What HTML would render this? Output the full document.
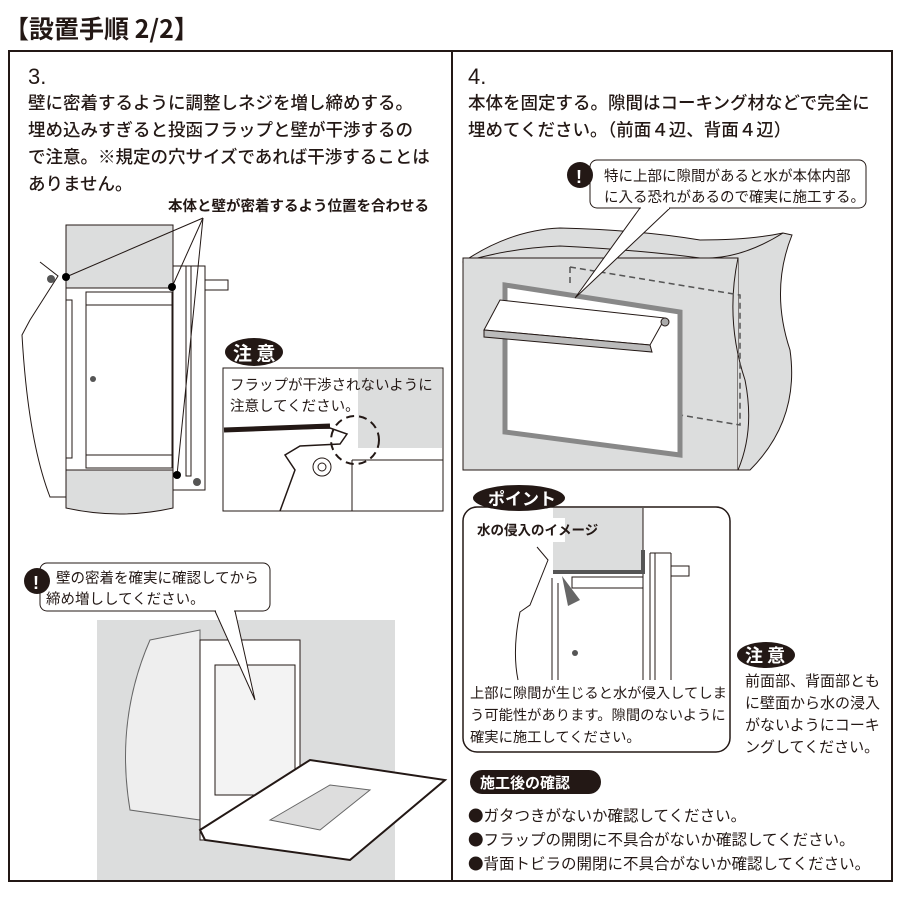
<!DOCTYPE html>
<html><head><meta charset="utf-8"><style>
body{margin:0;background:#fff}
svg{display:block}
text{font-family:"Liberation Sans","Noto Sans CJK JP",sans-serif;fill:#231815}
.cjk{font-family:"Noto Sans CJK JP",sans-serif}
</style></head><body>
<svg width="900" height="900" viewBox="0 0 900 900" xmlns="http://www.w3.org/2000/svg">
<text x="4" y="38" font-size="25" class="cjk" font-weight="bold">【設置手順 2/2】</text>
<rect x="9" y="51" width="883" height="830" fill="none" stroke="#231815" stroke-width="2"/>
<line x1="452" y1="51" x2="452" y2="881" stroke="#231815" stroke-width="2"/>

<!-- Step 3 -->
<text x="28" y="84" font-size="22">3.</text>
<g font-size="17.5" class="cjk" font-weight="500">
<text x="28" y="109">壁に密着するように調整しネジを増し締めする。</text>
<text x="28" y="136">埋め込みすぎると投函フラップと壁が干渉するの</text>
<text x="28" y="163">で注意。※規定の穴サイズであれば干渉することは</text>
<text x="28" y="190">ありません。</text>
</g>
<text x="168" y="211" font-size="14.5" class="cjk" font-weight="bold">本体と壁が密着するよう位置を合わせる</text>

<!-- wall -->
<rect x="66" y="225" width="107" height="63" fill="#dcdddd" stroke="#231815"/>
<path d="M66 470 H173 V508 Q120 520 66 508 Z" fill="#dcdddd" stroke="#231815"/>
<rect x="66" y="288" width="107" height="182" fill="#fff" stroke="#231815"/>
<rect x="86" y="292" width="86" height="176" fill="#fff" stroke="#231815"/>
<rect x="86" y="292" width="86" height="13" fill="#fff" stroke="#231815"/>
<rect x="86" y="455" width="86" height="13" fill="#fff" stroke="#231815"/>
<rect x="66" y="300" width="6" height="158" fill="none" stroke="#231815"/>
<circle cx="93" cy="379" r="3" fill="#555"/>
<rect x="173" y="266" width="32" height="224" fill="#fff" stroke="#231815"/>
<rect x="186" y="266" width="5" height="210" fill="none" stroke="#231815"/>
<rect x="205" y="280" width="23" height="10" fill="#fff" stroke="#231815"/>
<circle cx="197" cy="482" r="4" fill="#555"/>
<path d="M40 262 L58 276 L30 320 L22 335 Q28 440 50 497 H66" fill="none" stroke="#231815"/>
<circle cx="51" cy="279" r="4" fill="#555"/>
<g stroke="#231815"><line x1="203" y1="218" x2="66" y2="277"/><line x1="203" y1="218" x2="172" y2="287"/><line x1="203" y1="218" x2="177" y2="475"/></g>
<circle cx="66" cy="277" r="4" fill="#000"/><circle cx="172" cy="287" r="4" fill="#000"/><circle cx="177" cy="475" r="4" fill="#000"/>

<!-- 注意 box -->
<rect x="223" y="368" width="220" height="143" fill="#fff" stroke="#231815"/>
<rect x="358" y="369" width="84" height="79" fill="#dcdddd"/>
<line x1="352" y1="460" x2="443" y2="460" stroke="#231815"/>
<line x1="352" y1="460" x2="352" y2="511" stroke="#231815"/>
<ellipse cx="254" cy="352" rx="29" ry="14" fill="#231815"/>
<text x="233" y="360" font-size="19" font-weight="bold" class="cjk" style="fill:#fff">注 意</text>
<text x="230" y="390" font-size="14.5" class="cjk">フラップが干渉されないように</text>
<text x="230" y="411" font-size="14.5" class="cjk">注意してください。</text>
<path d="M224 430 L330 428 L347 434 L340 444 L300 446 L285 455 L295 470 L280 511" fill="none" stroke="#231815" stroke-width="1.5"/>
<path d="M224 430 L330 426" stroke="#231815" stroke-width="5"/>
<circle cx="322" cy="467" r="9" fill="#fff" stroke="#231815"/><circle cx="322" cy="467" r="4" fill="none" stroke="#231815"/>
<circle cx="355" cy="440" r="24" fill="none" stroke="#231815" stroke-width="2" stroke-dasharray="8 5"/>

<!-- bottom left illustration -->
<rect x="97" y="620" width="298" height="260" fill="#dcdddd"/>
<path d="M150 640 L200 630 L200 820 L130 810 Q115 720 150 640 Z" fill="#eee" stroke="#666"/>
<rect x="200" y="640" width="100" height="200" fill="#fff" stroke="#231815"/>
<rect x="215" y="665" width="80" height="130" fill="#f3f3f3" stroke="#231815"/>
<path d="M200 830 L310 760 L445 780 L350 860 L205 840 Z" fill="#fff" stroke="#231815" stroke-width="2"/>
<path d="M270 820 L330 785 L370 790 L320 830 Z" fill="#ddd" stroke="#666"/>
<rect x="40" y="563" width="230" height="48" rx="7" fill="#fff" stroke="#231815"/>
<path d="M215 611 L255 700 L235 611 Z" fill="#fff" stroke="#231815"/>
<line x1="216" y1="611" x2="234" y2="611" stroke="#fff" stroke-width="2"/>
<circle cx="37" cy="581" r="13" fill="#231815"/>
<text x="33" y="589" font-size="18" font-weight="bold" style="fill:#fff">!</text>
<text x="56" y="583" font-size="14.5" class="cjk">壁の密着を確実に確認してから</text>
<text x="46" y="604" font-size="14.5" class="cjk">締め増ししてください。</text>

<!-- Step 4 -->
<text x="468" y="84" font-size="22">4.</text>
<g font-size="17.5" class="cjk" font-weight="500">
<text x="468" y="109">本体を固定する。隙間はコーキング材などで完全に</text>
<text x="468" y="136">埋めてください。（前面４辺、背面４辺）</text>
</g>
<path d="M463 262 Q510 230 560 228 Q640 230 700 240 Q750 240 783 233 L792 235 Q770 290 790 350 Q800 420 750 470 L738 470 Z" fill="#dcdddd" stroke="#231815"/>
<path d="M463 262 Q510 248 560 246 Q640 250 700 258 Q740 260 783 233" fill="none" stroke="#231815"/>
<rect x="463" y="258" width="275" height="212" fill="#dcdddd" stroke="#231815"/>
<path d="M738 258 Q725 320 745 380 Q755 430 738 470" fill="#dcdddd" stroke="#231815"/>
<g stroke="#555" stroke-dasharray="6 4" fill="none" stroke-width="1.5"><path d="M570 267 L740 295 L740 425 L680 415"/><path d="M570 267 L570 285"/></g>
<path d="M505 285 L680 312 L680 455 L505 432 Z" fill="#fff" stroke="#888" stroke-width="5"/>
<path d="M484 330 L500 300 L665 318 L650 345 Z" fill="#fff" stroke="#231815"/>
<path d="M484 330 L650 345 L652 352 L484 337 Z" fill="#bbb" stroke="#231815"/>
<circle cx="665" cy="322" r="4" fill="#aaa" stroke="#231815"/>
<rect x="590" y="160" width="276" height="48" rx="7" fill="#fff" stroke="#231815"/>
<path d="M640 208 L575 298 L670 208 Z" fill="#fff" stroke="#231815"/>
<line x1="641" y1="208" x2="669" y2="208" stroke="#fff" stroke-width="2"/>
<circle cx="580" cy="175" r="13" fill="#231815"/>
<text x="576" y="183" font-size="18" font-weight="bold" style="fill:#fff">!</text>
<text x="604" y="181" font-size="14.5" class="cjk">特に上部に隙間があると水が本体内部</text>
<text x="604" y="202" font-size="14.5" class="cjk">に入る恐れがあるので確実に施工する。</text>

<!-- point -->
<rect x="463" y="507" width="267" height="245" rx="14" fill="#fff" stroke="#231815" stroke-width="1.5"/>
<rect x="553" y="508" width="90" height="64" fill="#dcdddd"/>
<rect x="467" y="518" width="98" height="24" fill="#fff"/>
<text x="477" y="535" font-size="13.5" class="cjk" font-weight="bold">水の侵入のイメージ</text>
<ellipse cx="519" cy="498" rx="46" ry="13" fill="#231815"/>
<text x="488" y="505" font-size="17" font-weight="bold" class="cjk" style="fill:#fff">ポイント</text>
<g stroke="#231815" fill="none">
<line x1="552" y1="578" x2="552" y2="680"/><line x1="558" y1="583" x2="558" y2="680"/>
<line x1="643" y1="508" x2="643" y2="680"/><line x1="650" y1="553" x2="650" y2="680"/>
<line x1="655" y1="553" x2="655" y2="680"/><line x1="671" y1="553" x2="671" y2="680"/><line x1="650" y1="553" x2="671" y2="553"/>
<rect x="671" y="566" width="18" height="10"/>
<rect x="572" y="577" width="71" height="11"/>
<path d="M537 547 L548 560 L530 605 L520 612 Q512 650 518 680"/>
</g>
<path d="M553 572 H643 V550" fill="none" stroke="#555" stroke-width="4"/>
<path d="M562 576 L580 600 L568 606 Z" fill="#666"/>
<circle cx="575" cy="653" r="3" fill="#555"/>
<text x="470" y="698" font-size="14.3" class="cjk">上部に隙間が生じると水が侵入してしま</text>
<text x="470" y="720" font-size="14.3" class="cjk">う可能性があります。隙間のないように</text>
<text x="470" y="742" font-size="14.3" class="cjk">確実に施工してください。</text>

<ellipse cx="766" cy="655" rx="29" ry="13" fill="#231815"/>
<text x="745" y="662" font-size="18" font-weight="bold" class="cjk" style="fill:#fff">注 意</text>
<text x="745" y="686" font-size="15" class="cjk">前面部、背面部とも</text>
<text x="745" y="708" font-size="15" class="cjk">に壁面から水の浸入</text>
<text x="745" y="730" font-size="15" class="cjk">がないようにコーキ</text>
<text x="745" y="752" font-size="15" class="cjk">ングしてください。</text>

<rect x="470" y="770" width="131" height="24" rx="12" fill="#231815"/>
<text x="480" y="788" font-size="15" font-weight="bold" class="cjk" style="fill:#fff">施工後の確認</text>
<text x="468" y="821" font-size="15.5" class="cjk">●ガタつきがないか確認してください。</text>
<text x="468" y="845" font-size="15.5" class="cjk">●フラップの開閉に不具合がないか確認してください。</text>
<text x="468" y="869" font-size="15.5" class="cjk">●背面トビラの開閉に不具合がないか確認してください。</text>
</svg>
</body></html>
